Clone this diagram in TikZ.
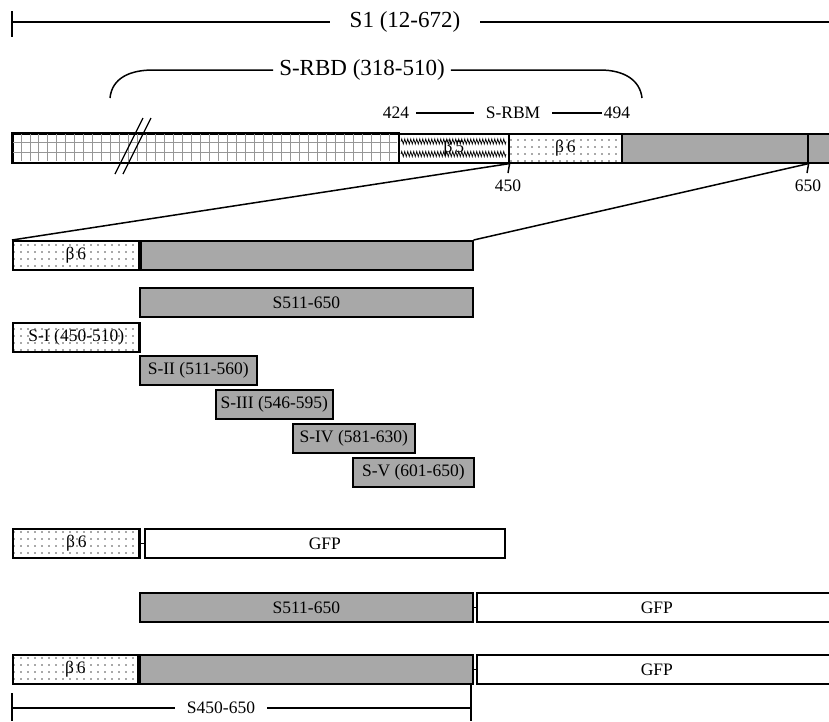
\documentclass[tikz,border=0pt]{standalone}
\usepackage{fontspec}
\setmainfont{Liberation Serif}
\usetikzlibrary{patterns.meta,decorations.pathmorphing}
\definecolor{gfill}{RGB}{168,168,168}
\definecolor{dotc}{RGB}{80,80,80}
\definecolor{gridc}{RGB}{150,150,150}
\begin{document}
\begin{tikzpicture}[x=1pt,y=-1pt,
  lbl/.style={font=\fontsize{17.5}{17.5}\selectfont, inner sep=0pt},
  ttl/.style={font=\fontsize{23}{23}\selectfont, inner sep=0pt},
  bx/.style={draw, line width=1.6pt, rectangle, inner sep=0pt, anchor=north west,
             minimum height=29pt, font=\fontsize{17.5}{17.5}\selectfont},
  gb/.style={bx, fill=gfill},
  db/.style={bx, pattern={Dots[distance=7pt, radius=0.85pt]}, pattern color=dotc},
  wb/.style={bx, fill=white},
  ln/.style={line width=1.5pt},
  sep/.style={line width=3.2pt},
]
\useasboundingbox (0,0) rectangle (829,721);
\clip (0,0) rectangle (829,721);

% ---- S1 dimension line
\coordinate (s1a) at (12,22);
\coordinate (s1b) at (840,22);
\coordinate (s1t1) at (12,11);
\coordinate (s1t2) at (12,37);
\node[ttl, inner xsep=20pt] (s1) at (405,22) {S1 (12-672)};
\draw[ln] (s1a) -- (s1.west);
\draw[ln] (s1.east) -- (s1b);
\draw[ln] (s1t1) -- (s1t2);

% ---- S-RBD bracket
\node[ttl, inner xsep=6pt] (srbd) at (362,70) {S-RBD (318-510)};
\coordinate (rb1) at (110,98);
\coordinate (rb2) at (642,98);
\draw[ln] (rb1) .. controls (112,78) and (130,70) .. (153,70) -- (srbd.west);
\draw[ln] (srbd.east) -- (600,70) .. controls (624,70) and (640,80) .. (rb2);

% ---- S-RBM
\node[lbl, inner xsep=7pt] (n424) at (396,113) {424};
\node[lbl, inner xsep=12pt] (nrbm) at (513,113) {S-RBM};
\node[lbl, inner xsep=2pt] (n494) at (617,113) {494};
\draw[ln] (n424.east) -- (nrbm.west);
\draw[ln] (nrbm.east) -- (n494.west);

% ---- main bar
\node[wb, minimum width=386pt] (grid) at (12,133) {};
\foreach \i in {1,...,42}
  \draw[gridc, line width=0.9pt] ({12+\i*386/43},134) -- ({12+\i*386/43},161);
\draw[gridc, line width=0.9pt] (13,142.7) -- (397,142.7);
\draw[gridc, line width=0.9pt] (13,152.3) -- (397,152.3);
\draw[line width=1.6pt] (grid.north west) rectangle (grid.south east);
\node[wb, minimum width=110pt] (b5) at (398,133) {};
\draw[decorate, decoration={zigzag, segment length=3pt, amplitude=2.6pt}, line width=0.7pt]
  (401,141.5) -- (506,141.5);
\draw[decorate, decoration={zigzag, segment length=3pt, amplitude=2.6pt}, line width=0.7pt]
  (401,154) -- (506,154);
\node[lbl] (b5t) at (b5.center) {β\,5};
\node[db, minimum width=113pt] (b6) at (508,133) {β\,6};
\node[gb, minimum width=186pt] (g1) at (621,133) {};
\node[gb, minimum width=40pt] (g2) at (807,133) {};

% double slash
\coordinate (sl1a) at (115,174);
\coordinate (sl1b) at (143,118);
\coordinate (sl2a) at (123,174);
\coordinate (sl2b) at (151,118);
\draw[line width=1.2pt] (sl1a) -- (sl1b);
\draw[line width=1.2pt] (sl2a) -- (sl2b);

% ticks and labels
\coordinate (t450) at (508,173);
\coordinate (t650) at (807,173);
\draw[ln] (b5.south east) -- (t450);
\draw[ln] (g1.south east) -- (t650);
\node[lbl] (l450) at (508,186) {450};
\node[lbl] (l650) at (808,186) {650};

% ---- row 2
\node[db, minimum width=126pt] (r2b6) at (12,240) {β\,6};
\node[gb, minimum width=334pt] (r2g) at (138,240) {};
\draw[sep] ([xshift=0.8pt]r2b6.north east) -- ([xshift=0.8pt]r2b6.south east);
\draw[ln] (b5.south east) -- (r2b6.north west);
\draw[ln] (g1.south east) -- (r2g.north east);

% ---- fragments
\node[gb, minimum width=333pt] (s511) at (139,287) {S511-650};
\node[db, minimum width=127pt] (sI) at (12,322) {S-I (450-510)};
\draw[sep] ([xshift=-1pt]sI.north east) -- ([xshift=-1pt]sI.south east);
\node[gb, minimum width=117pt] (sII) at (139,355) {S-II (511-560)};
\node[gb, minimum width=117pt] (sIII) at (215,389) {S-III (546-595)};
\node[gb, minimum width=122pt] (sIV) at (292,423) {S-IV (581-630)};
\node[gb, minimum width=121pt] (sV) at (352,457) {S-V (601-650)};

% ---- GFP fusions
\node[db, minimum width=127pt] (gb6) at (12,528) {β\,6};
\draw[sep] ([xshift=-1pt]gb6.north east) -- ([xshift=-1pt]gb6.south east);
\node[wb, minimum width=360pt] (gfp1) at (144,528) {GFP};
\draw[ln] (gb6.east) -- (gfp1.west);

\node[gb, minimum width=333pt] (s511b) at (139,592) {S511-650};
\node[wb, minimum width=360pt] (gfp2) at (476,592) {GFP};
\draw[ln] (s511b.east) -- (gfp2.west);

\node[db, minimum width=125pt] (lb6) at (12,654) {β\,6};
\node[gb, minimum width=335pt] (lg) at (137,654) {};
\draw[sep] ([xshift=0.8pt]lb6.north east) -- ([xshift=0.8pt]lb6.south east);
\node[wb, minimum width=360pt] (gfp3) at (476,654) {GFP};
\draw[ln] (lg.east) -- (gfp3.west);

% ---- S450-650 dimension
\coordinate (d1) at (12,708);
\coordinate (d2) at (471,708);
\coordinate (d1a) at (12,693);
\coordinate (d1b) at (12,721);
\coordinate (d2a) at (471,685);
\coordinate (d2b) at (471,721);
\node[lbl, inner xsep=12pt] (s450) at (221,708) {S450-650};
\draw[ln] (d1) -- (s450.west);
\draw[ln] (s450.east) -- (d2);
\draw[ln] (d1a) -- (d1b);
\draw[ln] (d2a) -- (d2b);
\end{tikzpicture}
\end{document}
